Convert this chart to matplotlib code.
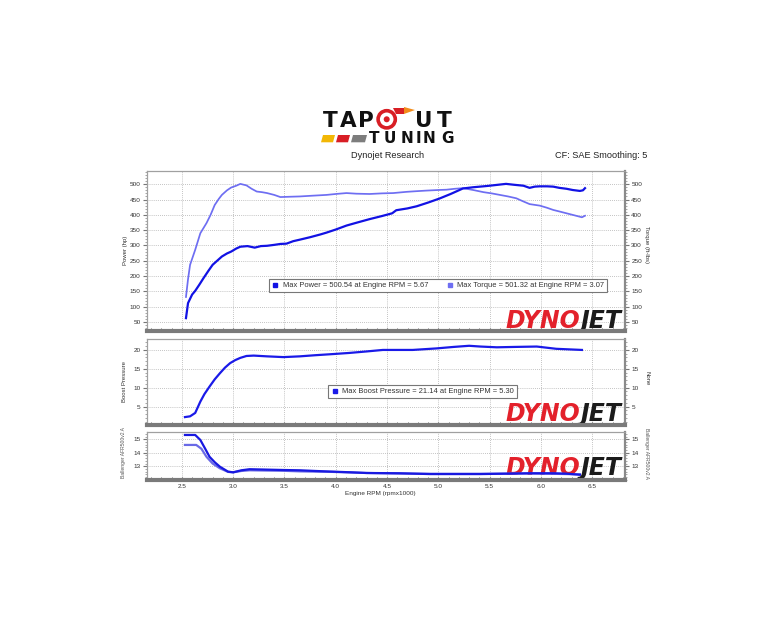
import matplotlib
matplotlib.use("Agg")
import matplotlib.pyplot as plt
from matplotlib.lines import Line2D
from matplotlib.ticker import MultipleLocator, FormatStrFormatter
from matplotlib.patches import Polygon, Circle
from matplotlib.transforms import IdentityTransform

# ---------------- data ----------------
power_rpm = [2.54, 2.56, 2.60, 2.63, 2.67, 2.71, 2.76, 2.80, 2.85, 2.89, 2.94, 2.98, 3.03, 3.07,
             3.14, 3.21, 3.27, 3.33, 3.40, 3.46, 3.52, 3.585, 3.65, 3.75, 3.85, 3.91, 4.00, 4.105,
             4.20, 4.33, 4.45, 4.55, 4.59, 4.70, 4.79, 4.90, 5.01, 5.12, 5.24, 5.34, 5.44, 5.50,
             5.58, 5.66, 5.74, 5.83, 5.89, 5.94, 5.99, 6.06, 6.12, 6.18, 6.25, 6.31, 6.38, 6.41, 6.43]
power_hp = [63, 112, 140, 152, 172, 193, 218, 237, 252, 264, 274, 280, 290, 296,
            298, 293, 298, 299, 302, 305, 306, 314, 319, 327, 336, 342, 352, 365,
            374, 386, 396, 405, 415, 421, 428, 440, 453, 468, 486, 490, 493, 495,
            498, 501, 498, 495, 488, 492, 493, 493, 492, 488, 485, 481, 478, 480, 487]

torque_rpm = [2.54, 2.56, 2.58, 2.63, 2.68, 2.74, 2.78, 2.82, 2.86, 2.89, 2.94, 2.98, 3.03, 3.07,
              3.13, 3.18, 3.23, 3.28, 3.33, 3.40, 3.46, 3.55, 3.65, 3.75, 3.91, 4.00, 4.105, 4.20,
              4.33, 4.45, 4.56, 4.69, 4.78, 4.88, 5.00, 5.08, 5.16, 5.24, 5.34, 5.44, 5.52, 5.60,
              5.68, 5.76, 5.82, 5.89, 5.99, 6.06, 6.12, 6.18, 6.25, 6.32, 6.40, 6.43]
torque_ftlb = [132, 190, 237, 286, 340, 373, 400, 432, 452, 465, 480, 489, 495, 501,
               496, 485, 476, 474, 471, 465, 458, 459, 460, 462, 465, 468, 471, 469,
               468, 470, 471, 475, 477, 479, 481, 482, 485, 487, 481, 474, 470, 465,
               460, 454, 445, 435, 430, 423, 416, 411, 405, 399, 392, 397]

boost_rpm = [2.53, 2.58, 2.63, 2.68, 2.72, 2.77, 2.82, 2.87, 2.92, 2.97, 3.02, 3.07, 3.13, 3.20,
             3.33, 3.49, 3.65, 3.80, 3.97, 4.13, 4.30, 4.46, 4.75, 4.98, 5.15, 5.30, 5.41, 5.57,
             5.75, 5.96, 6.15, 6.40]
boost_psi = [2.2, 2.4, 3.3, 6.3, 8.3, 10.3, 12.2, 13.8, 15.3, 16.5, 17.3, 17.9, 18.4, 18.5,
             18.3, 18.1, 18.3, 18.6, 18.9, 19.2, 19.6, 20.0, 20.0, 20.4, 20.8, 21.1, 20.9, 20.7,
             20.8, 20.9, 20.3, 20.0]

afr1_rpm = [2.53, 2.63, 2.68, 2.72, 2.77, 2.82, 2.87, 2.95, 3.00, 3.08, 3.16, 3.33, 3.50, 3.65,
            3.80, 3.97, 4.15, 4.30, 4.62, 4.92, 5.41, 5.89, 6.12, 6.25, 6.38]
afr1 = [15.32, 15.32, 14.95, 14.4, 13.7, 13.3, 12.97, 12.6, 12.55, 12.7, 12.78, 12.75, 12.72, 12.7,
        12.65, 12.6, 12.55, 12.5, 12.48, 12.42, 12.42, 12.48, 12.48, 12.45, 12.37]

afr2_rpm = [2.53, 2.64, 2.69, 2.74, 2.80, 2.87, 2.95, 3.00, 3.08, 3.16, 3.33, 3.50, 3.65, 3.80,
            3.97, 4.30, 4.62, 4.92, 5.41, 5.89, 6.12, 6.38]
afr2 = [14.58, 14.58, 14.3, 13.7, 13.2, 12.85, 12.58, 12.55, 12.65, 12.7, 12.68, 12.66, 12.62, 12.6,
        12.58, 12.5, 12.46, 12.44, 12.44, 12.46, 12.44, 12.40]

x_ticks = [2.5, 3.0, 3.5, 4.0, 4.5, 5.0, 5.5, 6.0, 6.5]
power_ticks = [50, 100, 150, 200, 250, 300, 350, 400, 450, 500]
boost_ticks = [5, 10, 15, 20]
afr_ticks = [13, 14, 15]

legend_power = "Max Power = 500.54 at Engine RPM = 5.67"
legend_torque = "Max Torque = 501.32 at Engine RPM = 3.07"
legend_boost = "Max Boost Pressure = 21.14 at Engine RPM = 5.30"

# ---------------- styling ----------------
W, H = 768, 641
C_POWER = "#1212e4"
C_TORQUE = "#6e6ef2"
C_BOOST = "#1a1ae8"
C_AFR1 = "#1818e0"
C_AFR2 = "#6a6ae6"
TXT = "#333333"
FONT = "Liberation Sans"

fig = plt.figure(figsize=(W / 100, H / 100), dpi=100)
fig.patch.set_facecolor("white")


def fx(px):
    return px / W


def fy(py):
    return 1 - py / H


def make_ax(top, bottom):
    ax = fig.add_axes([fx(147), fy(bottom), (625 - 147) / W, (bottom - top) / H])
    ax.set_xlim(2.16, 6.82)
    for s in ("top", "left"):
        ax.spines[s].set_color("#a0a0a0")
        ax.spines[s].set_linewidth(0.9)
    ax.spines["right"].set_color("#8a8a8a")
    ax.spines["right"].set_linewidth(1.6)
    ax.spines["bottom"].set_color("#7a7a7a")
    ax.spines["bottom"].set_linewidth(3.0)
    ax.set_xticks(x_ticks)
    ax.xaxis.set_minor_locator(MultipleLocator(0.1))
    ax.tick_params(axis="x", which="both", direction="in", length=2, color="#555555",
                   labelsize=4.6, labelcolor=TXT, pad=2)
    ax.tick_params(axis="y", which="major", direction="out", length=3, color="#777777",
                   labelsize=4.6, labelcolor=TXT, left=True, right=True,
                   labelleft=True, labelright=True, pad=1.5)
    ax.tick_params(axis="y", which="minor", direction="out", length=1.5, color="#999999",
                   left=True, right=True)
    ax.grid(True, which="major", color="#b0b0b0", linestyle=(0, (1, 1.5)), linewidth=0.6)
    ax.set_axisbelow(True)
    for lab in ax.get_xticklabels() + ax.get_yticklabels():
        lab.set_family(FONT)
    return ax


def dynojet(ax, baseline_py, size=17):
    ax.text(fx(580), fy(baseline_py), "DYNO", transform=fig.transFigure, ha="right",
            va="baseline", color="#e3212b", fontsize=size, fontweight="heavy",
            fontstyle="italic", family="DejaVu Sans", zorder=1)
    ax.text(fx(581), fy(baseline_py), "JET", transform=fig.transFigure, ha="left",
            va="baseline", color="#1b1b1b", fontsize=size, fontweight="heavy",
            fontstyle="italic", family="DejaVu Sans", zorder=1)


def legend_handle(color):
    return Line2D([], [], linestyle="none", marker="s", markersize=3.2,
                  markerfacecolor=color, markeredgecolor=color)


# ---------------- top panel: power & torque ----------------
ax1 = make_ax(171, 331)
ax1.set_ylim(21, 543)
ax1.set_yticks(power_ticks)
ax1.yaxis.set_minor_locator(MultipleLocator(10))
ax1.tick_params(axis="x", labelbottom=False)
ax1.plot(torque_rpm, torque_ftlb, color=C_TORQUE, linewidth=1.25, zorder=3)
ax1.plot(power_rpm, power_hp, color=C_POWER, linewidth=1.6, zorder=4)
dynojet(ax1, 328)
leg1 = ax1.legend([legend_handle(C_POWER), legend_handle(C_TORQUE)], [legend_power, legend_torque],
                  ncol=2, loc="center", bbox_to_anchor=(fx(438), fy(285.5)),
                  bbox_transform=fig.transFigure, prop={"family": FONT, "size": 5.4},
                  frameon=True, fancybox=False, edgecolor="#777777", framealpha=1,
                  borderpad=0.35, handlelength=1.0, handletextpad=0.5, columnspacing=2.4,
                  borderaxespad=0)
leg1.get_frame().set_linewidth(0.8)
for t in leg1.get_texts():
    t.set_color(TXT)
fig.text(fx(125), fy(250), "Power (hp)", rotation=90, ha="center", va="center",
         fontsize=4.3, family=FONT, color=TXT)
fig.text(fx(647), fy(245), "Torque (ft-lbs)", rotation=-90, ha="center", va="center",
         fontsize=4.3, family=FONT, color=TXT)

# ---------------- middle panel: boost ----------------
ax2 = make_ax(339, 425)
ax2.set_ylim(0.1, 22.9)
ax2.set_yticks(boost_ticks)
ax2.yaxis.set_minor_locator(MultipleLocator(1))
ax2.tick_params(axis="x", labelbottom=False)
ax2.plot(boost_rpm, boost_psi, color=C_BOOST, linewidth=1.6, zorder=4)
dynojet(ax2, 421)
leg2 = ax2.legend([legend_handle(C_BOOST)], [legend_boost], loc="center",
                  bbox_to_anchor=(fx(422.5), fy(391.7)), bbox_transform=fig.transFigure,
                  prop={"family": FONT, "size": 5.4}, frameon=True, fancybox=False,
                  edgecolor="#777777", framealpha=1, borderpad=0.35, handlelength=1.0,
                  handletextpad=0.5, borderaxespad=0)
leg2.get_frame().set_linewidth(0.8)
for t in leg2.get_texts():
    t.set_color(TXT)
fig.text(fx(125), fy(381), "Boost Pressure", rotation=90, ha="center", va="center",
         fontsize=4.3, family=FONT, color=TXT)
fig.text(fx(647), fy(378), "None", rotation=-90, ha="center", va="center",
         fontsize=4.3, family=FONT, color=TXT)

# ---------------- bottom panel: AFR ----------------
ax3 = make_ax(432, 480)
ax3.set_ylim(11.98, 15.54)
ax3.set_yticks(afr_ticks)
ax3.yaxis.set_minor_locator(MultipleLocator(0.2))
ax3.xaxis.set_major_formatter(FormatStrFormatter("%.1f"))
ax3.tick_params(axis="x", which="major", labelbottom=True, pad=3)
for lab in ax3.get_xticklabels():
    lab.set_family(FONT)
ax3.plot(afr2_rpm, afr2, color=C_AFR2, linewidth=1.6, zorder=3)
ax3.plot(afr1_rpm, afr1, color=C_AFR1, linewidth=1.6, zorder=4)
dynojet(ax3, 475)
fig.text(fx(124), fy(453), "Ballenger AFR500v2 A", rotation=90, ha="center", va="center",
         fontsize=3.6, family=FONT, color="#555555")
fig.text(fx(646), fy(453), "Ballenger AFR500v2 A", rotation=-90, ha="center", va="center",
         fontsize=3.6, family=FONT, color="#555555")
fig.text(fx(380), fy(494), "Engine RPM (rpmx1000)", ha="center", va="center",
         fontsize=4.6, family=FONT, color=TXT)

# ---------------- header ----------------
fig.text(fx(388), fy(155.5), "Dynojet Research", ha="center", va="center",
         fontsize=6.6, family=FONT, color="#222222")
fig.text(fx(647), fy(155.5), "CF: SAE Smoothing: 5", ha="right", va="center",
         fontsize=6.6, family=FONT, color="#222222")

# logo letters
for ch, cx in zip("TAP", [330, 348.5, 366]):
    fig.text(fx(cx), fy(126.7), ch, ha="center", va="baseline", fontsize=15.5,
             fontweight="heavy", family="DejaVu Sans", color="#111111")
for ch, cx in zip("UT", [424, 444]):
    fig.text(fx(cx), fy(126.7), ch, ha="center", va="baseline", fontsize=15.5,
             fontweight="heavy", family="DejaVu Sans", color="#111111")
ident = IdentityTransform()
fig.add_artist(Polygon([[393, H - 108], [404, H - 108], [404, H - 114], [396, H - 114]],
                       closed=True, facecolor="#d81e25", edgecolor="none", transform=ident))
fig.add_artist(Polygon([[404, H - 107], [415, H - 110], [404, H - 114]], closed=True,
                       facecolor="#f28c1b", edgecolor="none", transform=ident))
fig.add_artist(Circle((386.7, H - 119.3), 8.6, facecolor="white", edgecolor="#d81e25",
                      linewidth=2.6, transform=ident))
fig.add_artist(Circle((386.7, H - 119.3), 3.0, facecolor="#d81e25", edgecolor="none",
                      transform=ident))
for ch, cx in zip("TUNING", [374.5, 390, 406.5, 418, 429.5, 447]):
    fig.text(fx(cx), fy(143.3), ch, ha="center", va="baseline", fontsize=11,
             fontweight="heavy", family="DejaVu Sans", color="#111111")
for (x0, x1), col in zip([(321, 333), (336, 348), (351, 365)], ["#f2b705", "#d81e25", "#7d7d7d"]):
    fig.add_artist(Polygon([[x0 + 2, H - 135], [x1 + 2, H - 135], [x1, H - 142.3], [x0, H - 142.3]],
                           closed=True, facecolor=col, edgecolor="none", transform=ident))

fig.savefig("out.png", dpi=100, facecolor="white")
